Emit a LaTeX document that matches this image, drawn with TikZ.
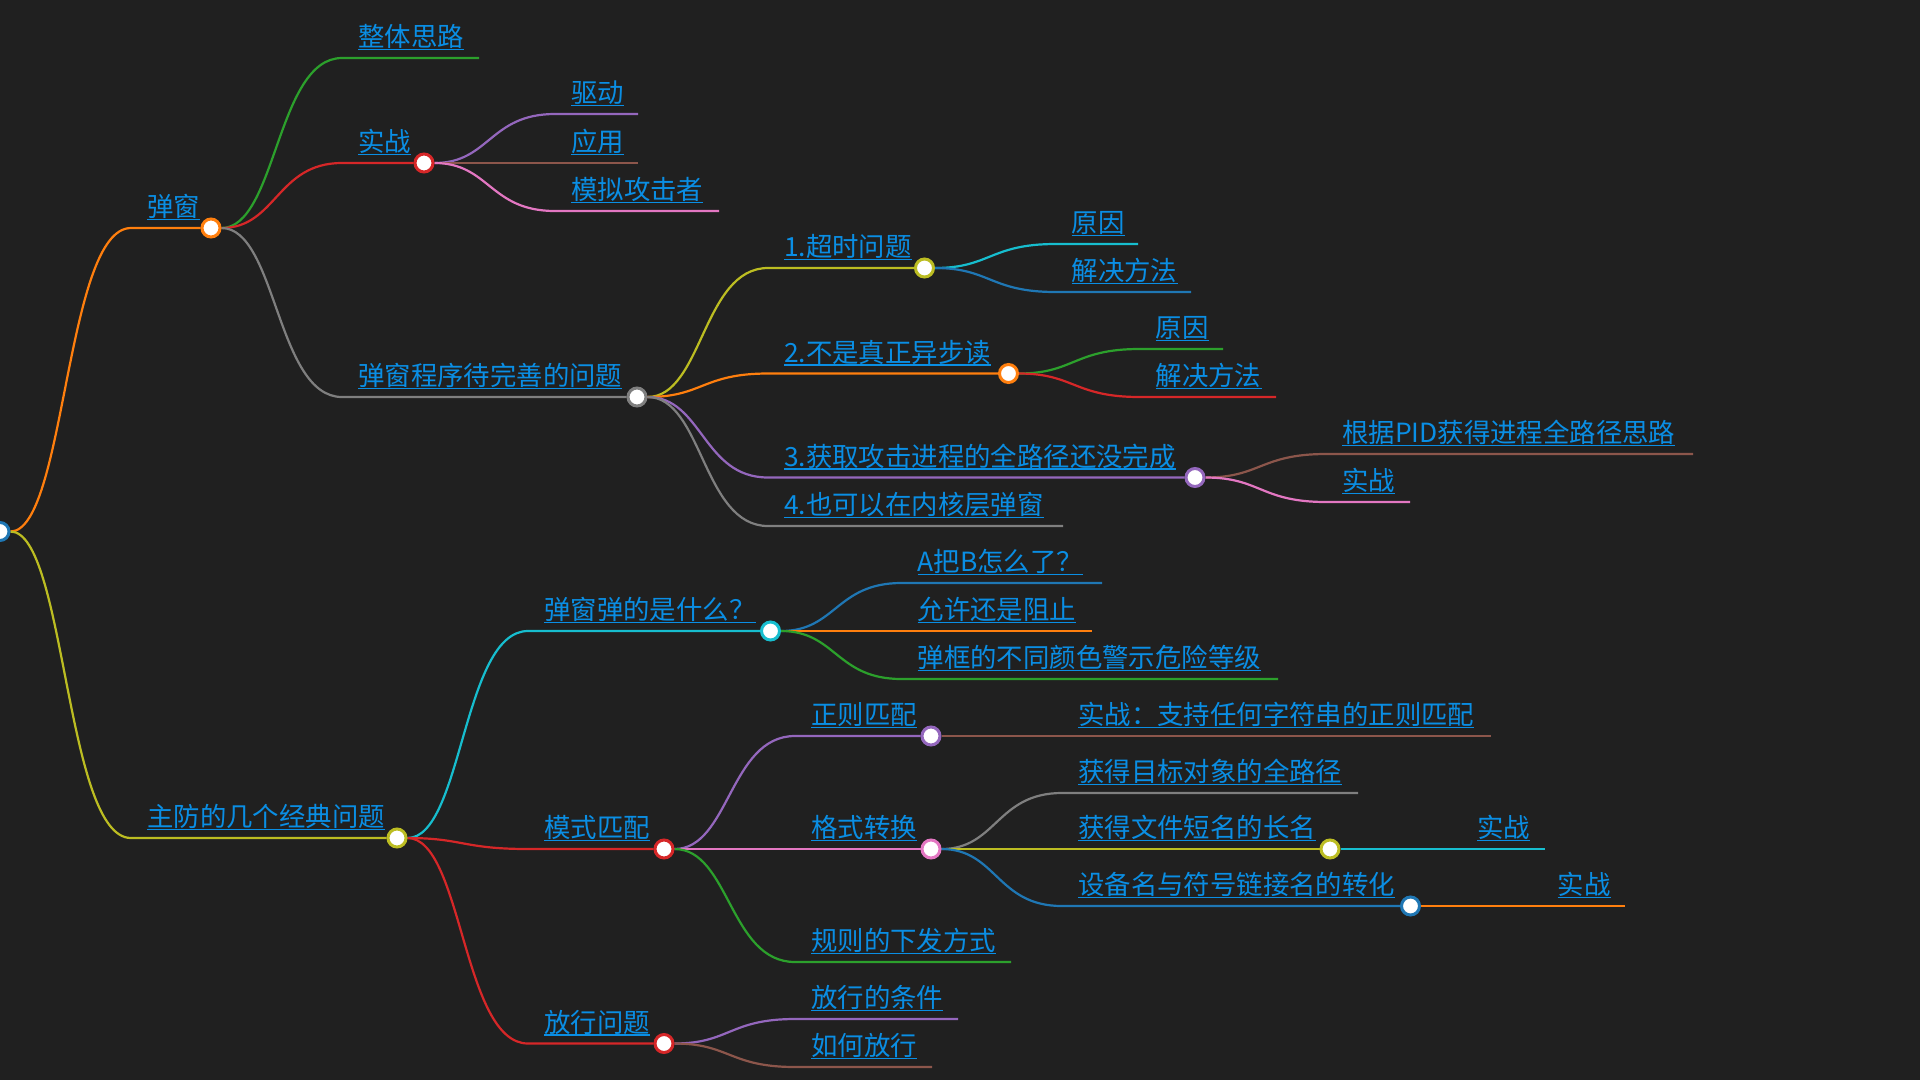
\documentclass[tikz,border=0pt]{standalone}
\usepackage{fontspec}
\setmainfont{Noto Sans CJK SC}
\usepackage{tikz}
\usetikzlibrary{calc}
\definecolor{mmbg}{HTML}{202020}
\definecolor{mmtext}{HTML}{0A8EE4}
\definecolor{cBlue}{HTML}{1F77B4}
\definecolor{cOrange}{HTML}{FF7F0E}
\definecolor{cGreen}{HTML}{2CA02C}
\definecolor{cRed}{HTML}{D62728}
\definecolor{cPurple}{HTML}{9467BD}
\definecolor{cBrown}{HTML}{8C564B}
\definecolor{cPink}{HTML}{E377C2}
\definecolor{cGrey}{HTML}{7F7F7F}
\definecolor{cOlive}{HTML}{BCBD22}
\definecolor{cCyan}{HTML}{17BECF}
\pgfdeclarelayer{back}
\pgfdeclarelayer{links}
\pgfsetlayers{back,links,main}
\tikzset{
  dot/.style={circle, draw=#1, fill=white, line width=3pt, minimum size=18pt, inner sep=0pt},
  topic/.style={anchor=base west, xshift=16pt, yshift=11.5pt, inner sep=0pt, text=mmtext, font=\fontsize{26.4}{30}\selectfont},
  uline/.style={draw=mmtext, line width=1.8pt},
  branch/.style={draw=#1, line width=2.2pt,
    to path={let \p1=(\tikztostart), \p2=(\tikztotarget) in
      .. controls ({(\x1+\x2)/2},\y1) and ({(\x1+\x2)/2},\y2) .. (\tikztotarget) \tikztonodes}},
}

\begin{document}
\begin{tikzpicture}[x=1pt, y=-1pt]
\useasboundingbox (0,0) rectangle (1920,1080);
\begin{pgfonlayer}{back}
\fill[mmbg] (0,0) rectangle (1920,1080);
\end{pgfonlayer}

% circles
\node[dot=cBlue] (root) at (0,531.5) {};
\node[dot=cOrange] (popup) at (211,228) {};
\node[dot=cOlive] (defense) at (397,838) {};
\node[dot=cRed] (practice) at (424,163) {};
\node[dot=cGrey] (popupIssue) at (637,397) {};
\node[dot=cOlive] (timeout) at (924.5,268) {};
\node[dot=cOrange] (async) at (1008.5,373.5) {};
\node[dot=cPurple] (fullpath) at (1195,477.5) {};
\node[dot=cCyan] (what) at (770.5,631) {};
\node[dot=cRed] (match) at (664,849) {};
\node[dot=cRed] (pass) at (664,1043.5) {};
\node[dot=cPurple] (regex) at (931,736) {};
\node[dot=cPink] (convert) at (931,849) {};
\node[dot=cOlive] (shortName) at (1330,849) {};
\node[dot=cBlue] (devName) at (1410.5,906) {};

% line starts and free ends
\coordinate (popup-s) at (131,228);
\coordinate (defense-s) at (131,838);
\coordinate (idea-s) at (342,58); \coordinate (idea-e) at (479,58);
\coordinate (practice-s) at (342,163);
\coordinate (popupIssue-s) at (342,397);
\coordinate (driver-s) at (555,114); \coordinate (driver-e) at (638,114);
\coordinate (app-s) at (555,163); \coordinate (app-e) at (638,163);
\coordinate (attacker-s) at (555,211); \coordinate (attacker-e) at (719,211);
\coordinate (timeout-s) at (768,268);
\coordinate (async-s) at (768,373.5);
\coordinate (fullpath-s) at (768,477.5);
\coordinate (kernel-s) at (768,526); \coordinate (kernel-e) at (1063,526);
\coordinate (toReason-s) at (1055.5,244); \coordinate (toReason-e) at (1138,244);
\coordinate (toFix-s) at (1055.5,292); \coordinate (toFix-e) at (1191,292);
\coordinate (asReason-s) at (1139.5,349); \coordinate (asReason-e) at (1223,349);
\coordinate (asFix-s) at (1139.5,397); \coordinate (asFix-e) at (1276,397);
\coordinate (pidIdea-s) at (1326,454); \coordinate (pidIdea-e) at (1693,454);
\coordinate (pidPractice-s) at (1326,502); \coordinate (pidPractice-e) at (1410,502);
\coordinate (what-s) at (528,631);
\coordinate (match-s) at (528,849);
\coordinate (pass-s) at (528,1043.5);
\coordinate (aToB-s) at (901.5,583); \coordinate (aToB-e) at (1102,583);
\coordinate (allow-s) at (901.5,631); \coordinate (allow-e) at (1092,631);
\coordinate (color-s) at (901.5,679); \coordinate (color-e) at (1278,679);
\coordinate (regex-s) at (795,736);
\coordinate (convert-s) at (795,849);
\coordinate (rules-s) at (795,962); \coordinate (rules-e) at (1011,962);
\coordinate (regexPractice-s) at (1062,736); \coordinate (regexPractice-e) at (1491,736);
\coordinate (targetPath-s) at (1062,793); \coordinate (targetPath-e) at (1358,793);
\coordinate (shortName-s) at (1062,849);
\coordinate (devName-s) at (1062,906);
\coordinate (shortPractice-s) at (1461,849); \coordinate (shortPractice-e) at (1545,849);
\coordinate (devPractice-s) at (1541.5,906); \coordinate (devPractice-e) at (1625,906);
\coordinate (passCond-s) at (795,1019); \coordinate (passCond-e) at (958,1019);
\coordinate (passHow-s) at (795,1067); \coordinate (passHow-e) at (932,1067);

% texts
\node[topic] (popup-t) at (popup-s) {弹窗};
\node[topic] (defense-t) at (defense-s) {主防的几个经典问题};
\node[topic] (idea-t) at (idea-s) {整体思路};
\node[topic] (practice-t) at (practice-s) {实战};
\node[topic] (popupIssue-t) at (popupIssue-s) {弹窗程序待完善的问题};
\node[topic] (driver-t) at (driver-s) {驱动};
\node[topic] (app-t) at (app-s) {应用};
\node[topic] (attacker-t) at (attacker-s) {模拟攻击者};
\node[topic] (timeout-t) at (timeout-s) {1.超时问题};
\node[topic] (async-t) at (async-s) {2.不是真正异步读};
\node[topic] (fullpath-t) at (fullpath-s) {3.获取攻击进程的全路径还没完成};
\node[topic] (kernel-t) at (kernel-s) {4.也可以在内核层弹窗};
\node[topic] (toReason-t) at (toReason-s) {原因};
\node[topic] (toFix-t) at (toFix-s) {解决方法};
\node[topic] (asReason-t) at (asReason-s) {原因};
\node[topic] (asFix-t) at (asFix-s) {解决方法};
\node[topic] (pidIdea-t) at (pidIdea-s) {根据PID获得进程全路径思路};
\node[topic] (pidPractice-t) at (pidPractice-s) {实战};
\node[topic] (what-t) at (what-s) {弹窗弹的是什么？};
\node[topic] (match-t) at (match-s) {模式匹配};
\node[topic] (pass-t) at (pass-s) {放行问题};
\node[topic] (aToB-t) at (aToB-s) {A把B怎么了？};
\node[topic] (allow-t) at (allow-s) {允许还是阻止};
\node[topic] (color-t) at (color-s) {弹框的不同颜色警示危险等级};
\node[topic] (regex-t) at (regex-s) {正则匹配};
\node[topic] (convert-t) at (convert-s) {格式转换};
\node[topic] (rules-t) at (rules-s) {规则的下发方式};
\node[topic] (regexPractice-t) at (regexPractice-s) {实战：支持任何字符串的正则匹配};
\node[topic] (targetPath-t) at (targetPath-s) {获得目标对象的全路径};
\node[topic] (shortName-t) at (shortName-s) {获得文件短名的长名};
\node[topic] (devName-t) at (devName-s) {设备名与符号链接名的转化};
\node[topic] (shortPractice-t) at (shortPractice-s) {实战};
\node[topic] (devPractice-t) at (devPractice-s) {实战};
\node[topic] (passCond-t) at (passCond-s) {放行的条件};
\node[topic] (passHow-t) at (passHow-s) {如何放行};

% underlines
\foreach \t in {popup-t,defense-t,idea-t,practice-t,popupIssue-t,driver-t,app-t,attacker-t,
  timeout-t,async-t,fullpath-t,kernel-t,toReason-t,toFix-t,asReason-t,asFix-t,pidIdea-t,
  pidPractice-t,what-t,match-t,pass-t,aToB-t,allow-t,color-t,regex-t,convert-t,rules-t,
  regexPractice-t,targetPath-t,shortName-t,devName-t,shortPractice-t,devPractice-t,passCond-t,passHow-t}
  \draw[uline] ([yshift=-3pt]\t.base west) -- ([yshift=-3pt]\t.base east);

% branches
\begin{pgfonlayer}{links}
\draw[branch=cOrange] (root) to (popup-s) -- (popup);
\draw[branch=cOlive] (root) to (defense-s) -- (defense);
\draw[branch=cGreen] (popup) to (idea-s) -- (idea-e);
\draw[branch=cRed] (popup) to (practice-s) -- (practice);
\draw[branch=cGrey] (popup) to (popupIssue-s) -- (popupIssue);
\draw[branch=cPurple] (practice) to (driver-s) -- (driver-e);
\draw[branch=cBrown] (practice) to (app-s) -- (app-e);
\draw[branch=cPink] (practice) to (attacker-s) -- (attacker-e);
\draw[branch=cOlive] (popupIssue) to (timeout-s) -- (timeout);
\draw[branch=cOrange] (popupIssue) to (async-s) -- (async);
\draw[branch=cPurple] (popupIssue) to (fullpath-s) -- (fullpath);
\draw[branch=cGrey] (popupIssue) to (kernel-s) -- (kernel-e);
\draw[branch=cCyan] (timeout) to (toReason-s) -- (toReason-e);
\draw[branch=cBlue] (timeout) to (toFix-s) -- (toFix-e);
\draw[branch=cGreen] (async) to (asReason-s) -- (asReason-e);
\draw[branch=cRed] (async) to (asFix-s) -- (asFix-e);
\draw[branch=cBrown] (fullpath) to (pidIdea-s) -- (pidIdea-e);
\draw[branch=cPink] (fullpath) to (pidPractice-s) -- (pidPractice-e);
\draw[branch=cCyan] (defense) to (what-s) -- (what);
\draw[branch=cRed] (defense) to (match-s) -- (match);
\draw[branch=cRed] (defense) to (pass-s) -- (pass);
\draw[branch=cBlue] (what) to (aToB-s) -- (aToB-e);
\draw[branch=cOrange] (what) to (allow-s) -- (allow-e);
\draw[branch=cGreen] (what) to (color-s) -- (color-e);
\draw[branch=cPurple] (match) to (regex-s) -- (regex);
\draw[branch=cPink] (match) to (convert-s) -- (convert);
\draw[branch=cGreen] (match) to (rules-s) -- (rules-e);
\draw[branch=cBrown] (regex) to (regexPractice-s) -- (regexPractice-e);
\draw[branch=cGrey] (convert) to (targetPath-s) -- (targetPath-e);
\draw[branch=cOlive] (convert) to (shortName-s) -- (shortName);
\draw[branch=cBlue] (convert) to (devName-s) -- (devName);
\draw[branch=cCyan] (shortName) to (shortPractice-s) -- (shortPractice-e);
\draw[branch=cOrange] (devName) to (devPractice-s) -- (devPractice-e);
\draw[branch=cPurple] (pass) to (passCond-s) -- (passCond-e);
\draw[branch=cBrown] (pass) to (passHow-s) -- (passHow-e);
\end{pgfonlayer}
\end{tikzpicture}
\end{document}
